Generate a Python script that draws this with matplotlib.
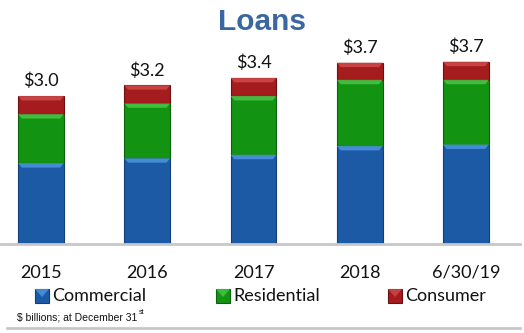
import numpy as np
import matplotlib
matplotlib.use('Agg')
import matplotlib.pyplot as plt
from matplotlib.patches import Rectangle, Polygon
from matplotlib.lines import Line2D

# loan balances, $ billions
periods = ['2015', '2016', '2017', '2018', '6/30/19']
commercial = [1.65, 1.75, 1.82, 2.00, 2.03]
residential = [1.00, 1.12, 1.20, 1.35, 1.32]
consumer = [0.37, 0.37, 0.37, 0.35, 0.37]
series_names = ['Commercial', 'Residential', 'Consumer']

colors = {'Commercial': ('#1d5aa6', '#4d95e0', '#123f78'),
          'Residential': ('#129312', '#46c846', '#0b640b'),
          'Consumer': ('#a51c1e', '#cf4a4a', '#6e1012')}

W, H = 524, 333
fig = plt.figure(figsize=(W / 100, H / 100), dpi=100)
fig.patch.set_facecolor('white')

# axes placed in pixel terms: baseline at y=244, spanning x 0..520
ax = fig.add_axes([0, (H - 244) / H, 520 / W, (244 - 40) / H])
ax.set_xlim(-0.386, 4.508)
ax.set_ylim(0, 204 / 49)

x = np.arange(len(periods))
width = 0.43
stack = [commercial, residential, consumer]
bottom = np.zeros(len(periods))
bevel = 0.09
for name, vals in zip(series_names, stack):
    vals = np.array(vals)
    base, light, dark = colors[name]
    ax.bar(x, vals, width, bottom=bottom, color=base, edgecolor=dark,
           linewidth=0.8, zorder=2)
    # lighter bevel along the top edge of each segment
    for xi, b, v in zip(x, bottom, vals):
        top = b + v
        inset = width * 0.08
        poly = Polygon([[xi - width / 2, top], [xi + width / 2, top],
                        [xi + width / 2 - inset, top - bevel],
                        [xi - width / 2 + inset, top - bevel]],
                       closed=True, facecolor=light, edgecolor='none',
                       alpha=0.85, zorder=3)
        ax.add_patch(poly)
    bottom = bottom + vals

totals = bottom
for xi, t in zip(x, totals):
    ax.annotate('$%.1f' % t, (xi, t), xytext=(0, 7), textcoords='offset points',
                ha='center', va='baseline', fontsize=13, family='Lato',
                color='#111111')

ax.set_xticks(x)
ax.set_xticklabels(periods, fontsize=13, family='Lato', color='#111111')
ax.tick_params(axis='x', length=0, pad=15)
ax.set_yticks([])
for s in ['top', 'left', 'right']:
    ax.spines[s].set_visible(False)
ax.spines['bottom'].set_color('#c8c8c8')
ax.spines['bottom'].set_linewidth(2)

fig.text(262 / W, 1 - 22 / H, 'Loans', ha='center', va='center',
         fontsize=21.5, fontweight='bold', family='Liberation Sans',
         color='#3b67a0')

# legend drawn in pixel positions
legend_x = [35, 216, 388]
for lx, name in zip(legend_x, series_names):
    base, light, dark = colors[name]
    sq = Rectangle((lx / W, 1 - 303 / H), 14 / W, 14 / H, transform=fig.transFigure,
                   facecolor=base, edgecolor=dark, linewidth=0.8)
    fig.patches.append(sq)
    tri = Polygon([[lx / W, 1 - 289 / H], [(lx + 14) / W, 1 - 289 / H],
                   [(lx + 7) / W, 1 - 297 / H]], closed=True,
                  transform=fig.transFigure, facecolor=light, edgecolor='none', alpha=0.8)
    fig.patches.append(tri)
    fig.text((lx + 17) / W, 1 - 296 / H, name, ha='left', va='center',
             fontsize=13, family='Lato', color='#111111')

note = fig.text(17 / W, 1 - 320 / H, '$ billions; at December 31', ha='left',
                va='baseline', fontsize=7.5, family='Liberation Sans', color='#111111')
# superscript placed right after the footnote text
fig.add_artist(matplotlib.text.Annotation(
    'st', xy=(1, 0.55), xycoords=note, xytext=(1.2, 0), textcoords='offset points',
    ha='left', va='bottom', fontsize=5, family='Liberation Sans', color='#111111'))

fig.lines.append(Line2D([7 / W, 520 / W], [1 - 328 / H, 1 - 328 / H],
                        transform=fig.transFigure, color='#c8c8c8', linewidth=2))

fig.savefig('out.png', dpi=100)
